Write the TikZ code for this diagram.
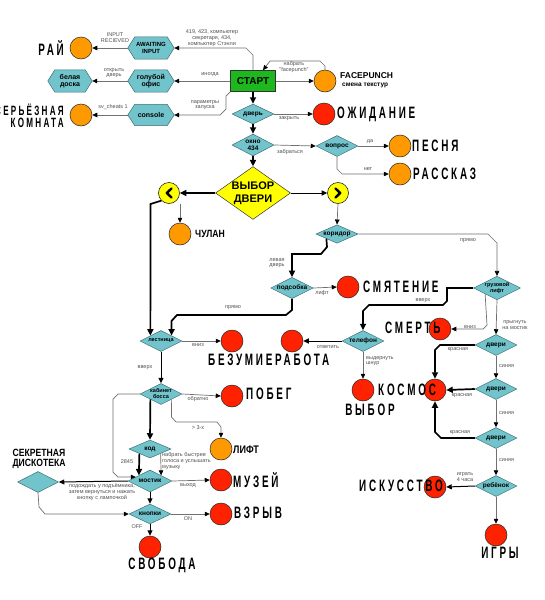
\documentclass[tikz,border=0pt]{standalone}
\usepackage{fontspec}
\setmainfont{Liberation Sans}
\newfontfamily\titlefont[LetterSpace=28]{Liberation Sans}
\usepackage{graphicx}
\usetikzlibrary{arrows.meta,shapes.geometric,calc}
\pgfdeclarelayer{bg}
\pgfsetlayers{bg,main}
\definecolor{teal1}{HTML}{72C4CC}
\definecolor{edge}{HTML}{3F6F74}
\definecolor{orng}{HTML}{FF9900}
\definecolor{redc}{HTML}{FF2200}
\definecolor{grn}{HTML}{1DB81D}
\definecolor{yel}{HTML}{FFFF00}
\definecolor{lbl}{HTML}{505050}
\definecolor{thin}{HTML}{707070}
\newcommand{\bigttl}[2][16.5]{\scalebox{0.6}[1]{\titlefont\bfseries\fontsize{#1}{#1}\selectfont #2}}
\newcommand{\cnd}[2]{\scalebox{0.82}[1]{\bfseries\fontsize{#1}{#1}\selectfont #2}}
\begin{document}
\begin{tikzpicture}[x=1pt,y=-1pt,
 hexn/.style={minimum width=46pt,minimum height=22pt,inner sep=0pt,align=center,font=\bfseries\fontsize{7}{7.5}\selectfont},
 dia/.style={diamond,aspect=2,fill=teal1,draw=edge,line width=0.5pt,minimum width=42pt,minimum height=21pt,inner sep=0pt,align=center,font=\bfseries\fontsize{6.5}{7}\selectfont},
 sdia/.style={dia,font=\bfseries\fontsize{5.5}{6}\selectfont},
 endo/.style={circle,fill=orng,draw=black!85,line width=0.5pt,minimum size=22pt,inner sep=0pt},
 endr/.style={endo,fill=redc},
 ycirc/.style={circle,fill=yel,draw=black!85,line width=0.6pt,minimum size=21pt,inner sep=0pt},
 ttl/.style={inner sep=0pt},
 lab/.style={inner sep=0pt,align=center,text=lbl,font=\fontsize{5.5}{5.8}\selectfont},
 gl/.style={draw=thin,line width=0.7pt,-{Triangle[length=5pt,width=4.5pt,color=black]}},
 ml/.style={draw=black,line width=1pt,-{Triangle[length=5.5pt,width=5pt]}},
 bl/.style={draw=black,line width=1.7pt,-{Triangle[length=6.5pt,width=6pt]}},
]
\useasboundingbox (0,0) rectangle (545,600);

% ---------- top-left hexagons ----------
\node[hexn,font=\bfseries\fontsize{6}{6.5}\selectfont] (await) at (151,48) {AWAITING\\INPUT};
\node[hexn] (office) at (151,81) {голубой\\офис};
\node[hexn,minimum width=44pt] (board) at (70,81) {белая\\доска};
\node[hexn,minimum height=21pt] (console) at (151,115) {console};
\begin{pgfonlayer}{bg}
\fill[white] (0,0) rectangle (545,600);
\foreach \n in {await,office,board,console}{
 \filldraw[fill=teal1,draw=edge,line width=0.5pt] (\n.west) -- ($(\n.north west)+(7,0)$) -- ($(\n.north east)+(-7,0)$) -- (\n.east) -- ($(\n.south east)+(-7,0)$) -- ($(\n.south west)+(7,0)$) -- cycle;
}
\end{pgfonlayer}

% ---------- circles ----------
\node[endo] (rai) at (81,48) {};
\node[endo] (serious) at (81,115) {};
\node[endo] (fp) at (325,81) {};
\node[endr] (wait) at (324,114) {};
\node[endo] (song) at (400,146) {};
\node[endo] (story) at (400,174) {};
\node[ycirc] (lc) at (169,193) {};
\node[ycirc] (rc) at (338,193) {};
\node[endo] (closet) at (180,234) {};
\node[endr] (confusion) at (348,287) {};
\node[endr] (death) at (440,329) {};
\node[endr] (work) at (292,341) {};
\node[endr] (choice) at (363,390) {};
\node[endr] (space) at (435,390) {};
\node[endr] (madness) at (232,341) {};
\node[endr] (escape) at (232,396) {};
\node[endo] (lift) at (221,449) {};
\node[endr] (museum) at (221,480) {};
\node[endr] (boom) at (221,514) {};
\node[endr] (freedom) at (150,547) {};
\node[endr] (art) at (435,487) {};
\node[endr] (games) at (496,535) {};

% ---------- start & diamonds ----------
\node[fill=grn,draw=black!80,line width=0.5pt,minimum width=45pt,minimum height=21pt,inner sep=0pt,font=\bfseries\fontsize{10}{10}\selectfont] (start) at (253,81) {СТАРТ};
\node[dia,minimum height=20pt] (door) at (253,114) {дверь};
\node[dia,minimum height=22pt] (window) at (253,145) {окно\\434};
\node[dia] (question) at (337,146) {вопрос};
\node[diamond,aspect=1.42,fill=yel,draw=black!80,line width=0.5pt,minimum width=71pt,minimum height=50pt,inner sep=0pt,align=center,font=\bfseries\fontsize{11}{13}\selectfont] (choose) at (253,193) {ВЫБОР\\ДВЕРИ};
\node[dia,minimum height=18pt] (corridor) at (337,234) {коридор};
\node[dia,minimum height=20pt] (utility) at (292,288) {подсобка};
\node[sdia] (freight) at (497,288) {грузовой\\лифт};
\node[dia] (phone) at (363,341) {телефон};
\node[dia] (d1) at (496,345) {двери};
\node[dia] (d2) at (496,389) {двери};
\node[dia] (d3) at (496,438) {двери};
\node[dia] (child) at (496,486) {ребёнок};
\node[sdia] (stairs) at (161,341) {лестница};
\node[sdia] (boss) at (161,394) {кабинет\\босса};
\node[dia,minimum height=18pt] (code) at (150,449) {код};
\node[dia,minimum width=44pt,minimum height=22pt] (bridge) at (150,481) {мостик};
\node[dia,minimum width=41pt] (disco) at (38,482) {};
\node[dia,minimum width=42pt,minimum height=20pt] (buttons) at (150,514) {кнопки};

% chevrons
\draw[line width=2.4pt,line cap=round,line join=round] ($(lc)+(2.5,-4.5)$) -- ($(lc)+(-2.2,0)$) -- ($(lc)+(2.5,4.5)$);
\draw[line width=2.4pt,line cap=round,line join=round] ($(rc)+(-2.5,-4.5)$) -- ($(rc)+(2.2,0)$) -- ($(rc)+(-2.5,4.5)$);

% ---------- titles ----------
\node[ttl,anchor=east] (tRai) at (64,48) {\bigttl{РАЙ}};
\node[ttl,anchor=east,align=right,font=\fontsize{12}{12.5}\selectfont] (tSer) at (64,116) {\bigttl[13.5]{СЕРЬЁЗНАЯ}\\\bigttl[13.5]{КОМНАТА}};
\node[ttl,anchor=west,font=\bfseries\fontsize{8.5}{8.5}\selectfont] (tFp) at (340,76) {FACEPUNCH};
\node[ttl,anchor=west,font=\bfseries\fontsize{6.5}{6.5}\selectfont] (tFp2) at (342,85) {смена текстур};
\node[ttl,anchor=west] (tWait) at (337,114) {\bigttl{ОЖИДАНИЕ}};
\node[ttl,anchor=west] (tSong) at (412,146) {\bigttl{ПЕСНЯ}};
\node[ttl,anchor=west] (tStory) at (413,174) {\bigttl{РАССКАЗ}};
\node[ttl,anchor=west] (tCloset) at (195,234) {\cnd{10.5}{ЧУЛАН}};
\node[ttl,anchor=west] (tConf) at (363,287) {\bigttl{СМЯТЕНИЕ}};
\node[ttl,anchor=west] (tDeath) at (385,328) {\bigttl{СМЕРТЬ}};
\node[ttl,anchor=west] (tWork) at (275,360) {\bigttl{РАБОТА}};
\node[ttl,anchor=west] (tMad) at (208,360) {\bigttl{БЕЗУМИЕ}};
\node[ttl,anchor=west] (tEsc) at (246,394) {\bigttl{ПОБЕГ}};
\node[ttl,anchor=west] (tSpace) at (378,390) {\bigttl{КОСМОС}};
\node[ttl] (tChoice) at (370,410) {\bigttl{ВЫБОР}};
\node[ttl,anchor=west] (tArt) at (359,486) {\bigttl{ИСКУССТВО}};
\node[ttl] (tGames) at (500,553) {\bigttl{ИГРЫ}};
\node[ttl,anchor=west] (tMus) at (233,480) {\bigttl{МУЗЕЙ}};
\node[ttl,anchor=west] (tBoom) at (234,513) {\bigttl{ВЗРЫВ}};
\node[ttl] (tFree) at (162,565) {\bigttl{СВОБОДА}};
\node[ttl,anchor=west] (tLift) at (233,450) {\cnd{11}{ЛИФТ}};
\node[ttl,align=center,font=\fontsize{10}{10}\selectfont] (tDisco) at (39,459) {\cnd{10.5}{СЕКРЕТНАЯ}\\\cnd{10.5}{ДИСКОТЕКА}};

% ---------- connectors ----------
\draw[gl] (start.north) -- (253,55) -- (246,48) -- (await.east);
\draw[gl] (start.west) -- (office.east);
\draw[gl] (start.south west) -- (226,96) -- (226,109) -- (220,115) -- (console.east);
\draw[gl] (await.west) -- (rai.east);
\draw[gl] (office.west) -- (board.east);
\draw[gl] (console.west) -- (serious.east);
\draw[gl] (start.east) -- (fp.west);
\draw[gl] (fp.north) -- (325,66) -- (320,61) -- (270,61) -- ($(start.north)+(10,0)$);
\draw[bl] (start.south) -- (door.north);
\draw[gl] (door.east) -- (wait.west);
\draw[bl] (door.south) -- (window.north);
\draw[gl] (window.east) -- (question.west);
\draw[gl] (question.east) -- (song.west);
\draw[gl] (question.south) -- (337,169) -- (342,174) -- (story.west);
\draw[bl] (window.south) -- (choose.north);
\draw[bl] (choose.west) -- (lc.east);
\draw[ml] (choose.east) -- (rc.west);
\draw[gl] (lc.south -| closet.north) -- (closet.north);
\draw[bl] (lc.south west) -- (150.5,204) -- (stairs.north west);
\draw[gl] (rc.south) -- (corridor.north);
\draw[gl] (corridor.east) -- (488,234) -- (497,243) -- (freight.north);
\draw[bl] (corridor.south west) -- (327,247) -- (321,254) -- (292,254) -- (utility.north);
\draw[gl] (utility.east) -- (confusion.west);
\draw[bl] (utility.south) -- (292,310) -- (286,315) -- (177,315) -- (171.5,321) -- (stairs.north east);
\draw[bl] (freight.west) -- (447,288) -- (447,301) -- (443,305) -- (369,305) -- (363,311) -- (phone.north);
\draw[gl] (freight.south west) -- (487,325) -- (483,329) -- (death.east);
\draw[gl] (freight.south) -- (d1.north);
\draw[gl] (d1.south) -- (d2.north);
\draw[gl] (d2.south) -- (d3.north);
\draw[gl] (d3.south) -- (child.north);
\draw[bl] (d1.west) -- (440,345) -- (435,350) -- (space.north);
\draw[bl] (d2.west) -- (space.east);
\draw[bl] (d3.west) -- (441,438) -- (435,432) -- (space.south);
\draw[ml] (child.west) -- (art.east);
\draw[gl] (child.south) -- (games.north);
\draw[ml] (phone.west) -- (work.east);
\draw[gl] (phone.south) -- (choice.north);
\draw[gl] (stairs.east) -- (madness.west);
\draw[ml] (stairs.south) -- (boss.north);
\draw[gl] (boss.east) -- (escape.west);
\draw[gl] (boss.south east) -- (171.5,417) -- (176,422) -- (217,422) -- (221,427) -- (lift.north);
\draw[bl] (boss.south west) -- (code.north);
\draw[bl] (code.south west) -- (bridge.north west);
\draw[gl] (code.south east) -- (bridge.north east);
\draw[gl] (boss.west) -- (118,394) -- (113,399) -- (113,472) -- (118,477) -- ($(bridge.west)!0.36!(bridge.north)$);
\draw[ml] (bridge.west) -- (disco.east);
\draw[gl] (disco.south) -- (39,507) -- (45,514) -- (buttons.west);
\draw[ml] (bridge.south) -- (buttons.north);
\draw[gl] (bridge.east) -- (museum.west);
\draw[gl] (buttons.east) -- (boom.west);
\draw[ml] (buttons.south) -- (freedom.north);

% ---------- labels ----------
\node[lab] (l1) at (115,38) {INPUT\\RECIEVED};
\node[lab] (l2) at (212,38) {419, 423, компьютер\\секретаря, 434,\\компьютер Стэнли};
\node[lab] (l3) at (114,73) {открыть\\дверь};
\node[lab] (l4) at (210,75) {иногда};
\node[lab] (l5) at (113,107) {sv\_cheats 1};
\node[lab] (l6) at (205,105) {параметры\\запуска};
\node[lab] (l7) at (294,67) {набрать\\"facepunch"};
\node[lab] (l8) at (289,119) {закрыть};
\node[lab] (l9) at (290,152) {забраться};
\node[lab] (l10) at (370,142) {да};
\node[lab] (l11) at (368,169) {нет};
\node[lab] (l12) at (468,241) {прямо};
\node[lab] (l13) at (277,263) {левая\\дверь};
\node[lab] (l14) at (322,293) {лифт};
\node[lab] (l15) at (423,301) {вверх};
\node[lab] (l16) at (470,327) {вниз};
\node[lab] (l17) at (515,325) {прыгнуть\\на мостик};
\node[lab] (l18) at (233,308) {прямо};
\node[lab] (l19) at (198,345) {вниз};
\node[lab] (l20) at (145,368) {вверх};
\node[lab] (l21) at (328,347) {ответить};
\node[lab,anchor=west,align=left] (l22) at (366,361) {выдернуть\\шнур};
\node[lab] (l23) at (458,350) {красная};
\node[lab] (l24) at (462,396) {красная};
\node[lab] (l25) at (460,433) {красная};
\node[lab,anchor=west] (l26) at (499,366) {синяя};
\node[lab,anchor=west] (l27) at (499,413) {синяя};
\node[lab,anchor=west] (l28) at (499,460) {синяя};
\node[lab] (l29) at (465,477) {играть\\4 часа};
\node[lab] (l30) at (198,399) {обратно};
\node[lab] (l31) at (198,428) {> 3-х};
\node[lab] (l32) at (127,462) {2845};
\node[lab,anchor=west,align=left] (l33) at (162,461) {набрать быстрее\\голоса и услышать\\музыку};
\node[lab] (l34) at (188,486) {выход};
\node[lab] (l35) at (102,492) {подождать у подъёмника,\\затем вернуться и нажать\\кнопку с лампочкой};
\node[lab] (l36) at (188,519) {ON};
\node[lab] (l37) at (137,527) {OFF};
\end{tikzpicture}
\end{document}
